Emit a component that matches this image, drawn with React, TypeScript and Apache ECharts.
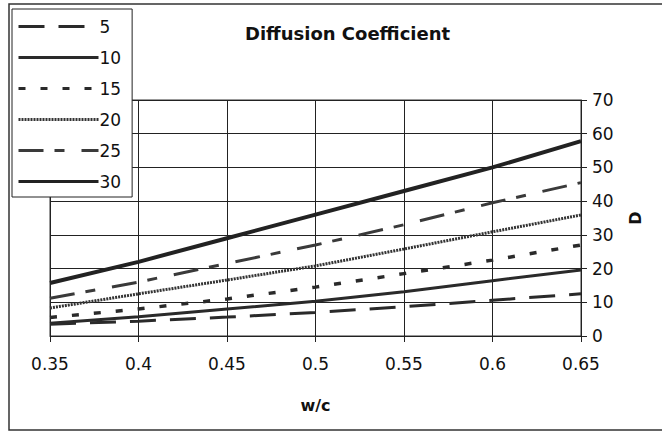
import React, { useEffect, useRef } from "react";
import * as echarts from "echarts";

const wc = [0.35, 0.4, 0.45, 0.5, 0.55, 0.6, 0.65];
const seriesNames = ["5", "10", "15", "20", "25", "30"];
const d5 = [3.5, 4.4, 5.6, 7, 8.7, 10.6, 12.5];
const d10 = [3.8, 5.7, 8, 10.3, 13.1, 16.4, 19.6];
const d15 = [5.5, 8, 11, 14.5, 18.5, 22.5, 27];
const d20 = [8.3, 12.5, 16.6, 20.8, 25.8, 30.9, 35.9];
const d25 = [11.2, 16, 21.5, 27, 33, 39.5, 45.5];
const d30 = [15.7, 22, 29, 36, 43, 50, 57.8];
const yTicks = { min: 0, max: 70, interval: 10 };
const title = "Diffusion Coefficient";
const xName = "w/c";
const yName = "D";

const FONT = "DejaVu Sans, Verdana, sans-serif";

export default function App() {
  const ref = useRef<HTMLDivElement>(null);
  useEffect(() => {
    if (!ref.current) return;
    const chart = echarts.init(ref.current, null, { renderer: "svg" });
    const all = [d5, d10, d15, d20, d25, d30];
    const styles: any[] = [
      { width: 3, type: [26, 14], color: "#2a2a2a" },
      { width: 3, type: "solid", color: "#2a2a2a" },
      { width: 3.5, type: [7, 15], color: "#2a2a2a" },
      { width: 3, type: [2, 1], color: "#333" },
      { width: 3, type: [25, 11, 10, 17], color: "#3a3a3a" },
      { width: 4, type: "solid", color: "#222" },
    ];
    const series = seriesNames.map((n, i) => ({
      name: n,
      type: "line",
      symbol: "none",
      data: wc.map((x, j) => [x, all[i][j]]),
      lineStyle: styles[i],
      itemStyle: { color: styles[i].color },
      z: 3,
    }));
    chart.setOption({
      animation: false,
      backgroundColor: "#fff",
      textStyle: { fontFamily: FONT, color: "#111" },
      title: {
        text: title,
        left: 240,
        top: 19,
        textStyle: { fontFamily: FONT, fontSize: 18, fontWeight: "bold", color: "#111" },
      },
      graphic: [
        {
          type: "rect",
          shape: { x: 9, y: 4, width: 700, height: 426 },
          style: { fill: "none", stroke: "#333", lineWidth: 1.5 },
          z: 0,
        },
      ],
      legend: {
        orient: "vertical",
        left: 12,
        top: 9,
        padding: [9, 11, 7, 5],
        itemWidth: 80,
        itemHeight: 14,
        itemGap: 14,
        backgroundColor: "#fff",
        borderColor: "#222",
        borderWidth: 1,
        itemStyle: { opacity: 0 },
        lineStyle: { width: 3 },
        textStyle: { fontFamily: FONT, fontSize: 17, color: "#111", padding: [0, 0, 0, -4] },
        data: seriesNames,
        z: 10,
      },
      grid: {
        left: 50,
        right: 81,
        top: 100,
        bottom: 96,
        show: true,
        borderColor: "#333",
        borderWidth: 1,
      },
      xAxis: {
        type: "value",
        min: 0.35,
        max: 0.65,
        interval: 0.05,
        name: xName,
        nameLocation: "middle",
        nameGap: 61,
        nameTextStyle: { fontFamily: FONT, fontSize: 16, fontWeight: "bold", color: "#111" },
        axisLine: { show: true, lineStyle: { color: "#222", width: 1 } },
        axisTick: { show: true, inside: false, length: 6, lineStyle: { color: "#222" } },
        axisLabel: {
          fontFamily: FONT,
          fontSize: 17,
          color: "#111",
          margin: 19,
          formatter: (v: number) => String(Math.round(v * 100) / 100),
        },
        splitLine: { show: true, lineStyle: { color: "#222", width: 1 } },
      },
      yAxis: {
        type: "value",
        position: "right",
        min: yTicks.min,
        max: yTicks.max,
        interval: yTicks.interval,
        name: yName,
        nameLocation: "middle",
        nameRotate: 90,
        nameGap: 46,
        nameTextStyle: { fontFamily: FONT, fontSize: 16, fontWeight: "bold", color: "#111" },
        axisLine: { show: true, lineStyle: { color: "#222", width: 1 } },
        axisTick: { show: true, inside: false, length: 6, lineStyle: { color: "#222" } },
        axisLabel: { fontFamily: FONT, fontSize: 17, color: "#111", margin: 11 },
        splitLine: { show: true, lineStyle: { color: "#222", width: 1 } },
      },
      series,
    });
    return () => chart.dispose();
  }, []);
  return (
    <div
      ref={ref}
      style={{ position: "fixed", left: 0, top: 0, width: 662, height: 432 }}
    />
  );
}
